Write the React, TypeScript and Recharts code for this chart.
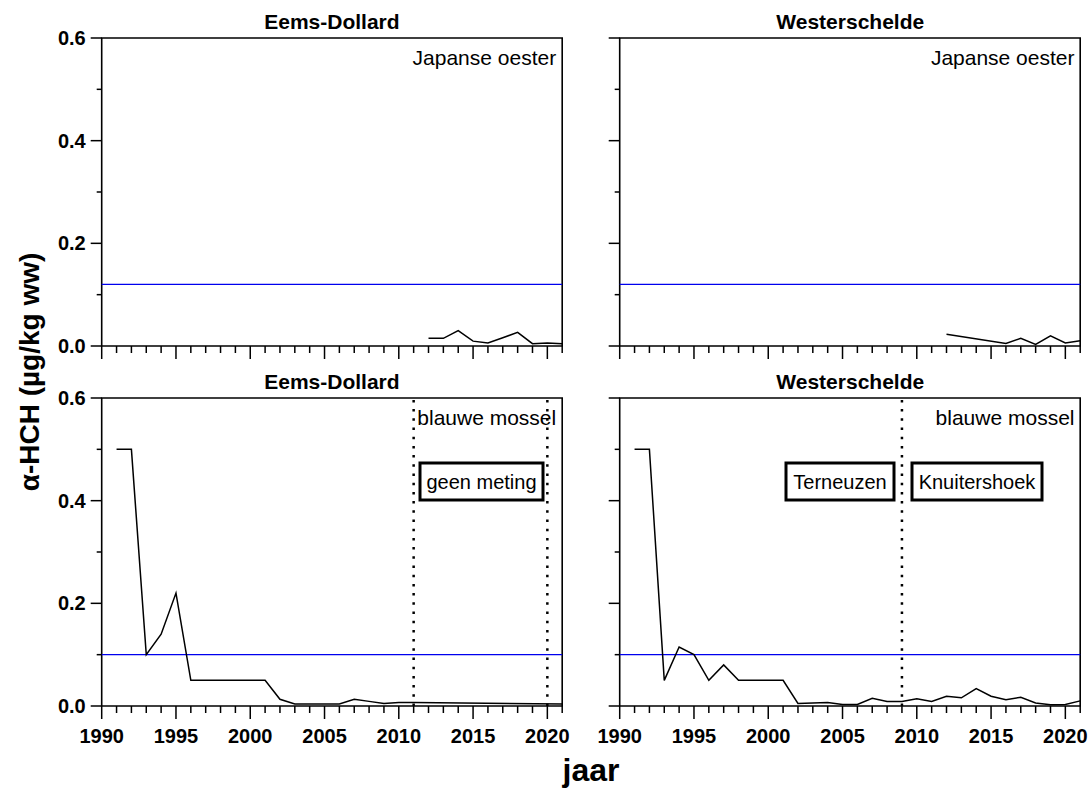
import React from 'react';
import { Line, LineChart, ReferenceArea, ReferenceLine, XAxis, YAxis } from 'recharts';

// α-HCH in μg/kg ww
const edOesterYears = [2012, 2013, 2014, 2015, 2016, 2017, 2018, 2019, 2020, 2021];
const edOesterValues = [0.015, 0.015, 0.03, 0.0095, 0.0057, 0.016, 0.0265, 0.0045, 0.006, 0.0045];

const wsOesterYears = [2012, 2016, 2017, 2018, 2019, 2020, 2021];
const wsOesterValues = [0.023, 0.005, 0.015, 0.003, 0.02, 0.006, 0.01];

const edMosselYears = [
  1991, 1992, 1993, 1994, 1995, 1996, 1997, 1998, 1999, 2000, 2001, 2002, 2003, 2004, 2005, 2006,
  2007, 2008, 2009, 2010, 2011, 2021,
];
const edMosselValues = [
  0.5, 0.5, 0.1, 0.14, 0.22, 0.05, 0.05, 0.05, 0.05, 0.05, 0.05, 0.013, 0.004, 0.004, 0.004, 0.004,
  0.013, 0.009, 0.005, 0.007, 0.007, 0.004,
];

const wsMosselYears = [
  1991, 1992, 1993, 1994, 1995, 1996, 1997, 1998, 1999, 2000, 2001, 2002, 2003, 2004, 2005, 2006,
  2007, 2008, 2009, 2010, 2011, 2012, 2013, 2014, 2015, 2016, 2017, 2018, 2019, 2020, 2021,
];
const wsMosselValues = [
  0.5, 0.5, 0.05, 0.115, 0.1, 0.05, 0.08, 0.05, 0.05, 0.05, 0.05, 0.005, 0.006, 0.007, 0.003, 0.003,
  0.015, 0.009, 0.009, 0.014, 0.009, 0.019, 0.016, 0.034, 0.019, 0.012, 0.017, 0.006, 0.0025, 0.003,
  0.01,
];

const yearTicks = Array.from({ length: 32 }, (_, i) => 1990 + i);
const valueTicks = [0, 0.1, 0.2, 0.3, 0.4, 0.5, 0.6];

const oesterNorm = 0.12;
const mosselNorm = 0.1;

const FONT = '"Liberation Sans", Arial, sans-serif';

const CHART_W = 570;
const CHART_H = 400;
const PLOT_LEFT = 101.7;
const PLOT_W = 460.5;
const PLOT_TOP = 38;
const PLOT_H = 308;

function toRows(years: number[], values: number[]) {
  return years.map((year, i) => ({ year, value: values[i] }));
}

function XTick(props: any) {
  const { x, y, payload, showLabel } = props;
  const major = payload.value % 5 === 0;
  return (
    <g>
      <line x1={x} x2={x} y1={y} y2={y + (major ? 13 : 7)} stroke="#000" strokeWidth={1.5} />
      {showLabel && major && (
        <text x={x} y={y + 37} textAnchor="middle" fontFamily={FONT} fontWeight="bold" fontSize={20} fill="#000">
          {payload.value}
        </text>
      )}
    </g>
  );
}

function YTick(props: any) {
  const { x, y, payload, showLabel } = props;
  const major = Math.round(payload.value * 10) % 2 === 0;
  return (
    <g>
      <line x1={x} x2={x - (major ? 11 : 5)} y1={y} y2={y} stroke="#000" strokeWidth={1.5} />
      {showLabel && major && (
        <text x={x - 16} y={y} dy="0.35em" textAnchor="end" fontFamily={FONT} fontWeight="bold" fontSize={20} fill="#000">
          {payload.value.toFixed(1)}
        </text>
      )}
    </g>
  );
}

interface PanelProps {
  left: number;
  top: number;
  rows: { year: number; value: number }[];
  norm: number;
  showXLabels: boolean;
  showYLabels: boolean;
  dotted?: number[];
}

function Panel({ left, top, rows, norm, showXLabels, showYLabels, dotted = [] }: PanelProps) {
  return (
    <div style={{ position: 'absolute', left, top, width: CHART_W, height: CHART_H }}>
      <LineChart
        width={CHART_W}
        height={CHART_H}
        data={rows}
        style={{ overflow: 'visible' }}
        margin={{
          top: PLOT_TOP,
          left: PLOT_LEFT - 60,
          right: CHART_W - PLOT_LEFT - PLOT_W,
          bottom: CHART_H - PLOT_TOP - PLOT_H - 40,
        }}
      >
        <XAxis
          dataKey="year"
          type="number"
          domain={[1990, 2021]}
          ticks={yearTicks}
          interval={0}
          height={40}
          axisLine={false}
          tickLine={false}
          tickSize={0}
          tickMargin={0}
          tick={<XTick showLabel={showXLabels} />}
        />
        <YAxis
          type="number"
          domain={[0, 0.6]}
          ticks={valueTicks}
          interval={0}
          width={60}
          axisLine={false}
          tickLine={false}
          tickSize={0}
          tickMargin={0}
          tick={<YTick showLabel={showYLabels} />}
        />
        <ReferenceLine y={norm} stroke="#0000ee" strokeWidth={1.4} />
        {dotted.map(year => (
          <ReferenceLine
            key={year}
            x={year}
            stroke="#000"
            strokeWidth={2.5}
            strokeDasharray="2.5 6.7"
          />
        ))}
        <Line
          dataKey="value"
          stroke="#000"
          strokeWidth={1.5}
          dot={false}
          isAnimationActive={false}
        />
        <ReferenceArea
          x1={1990}
          x2={2021}
          y1={0}
          y2={0.6}
          fill="none"
          stroke="#000"
          strokeWidth={1.6}
          ifOverflow="visible"
        />
      </LineChart>
    </div>
  );
}

function Box({ x, y, w, h, label }: { x: number; y: number; w: number; h: number; label: string }) {
  return (
    <g>
      <rect x={x} y={y} width={w} height={h} fill="#fff" stroke="#000" strokeWidth={3} />
      <text x={x + w / 2} y={y + h / 2} dy="0.35em" textAnchor="middle" fontFamily={FONT} fontSize={20}>
        {label}
      </text>
    </g>
  );
}

export default function App() {
  const rightShift = 518.3;
  const leftCenter = PLOT_LEFT + PLOT_W / 2;
  const rightCenter = leftCenter + rightShift;
  const leftEnd = PLOT_LEFT + PLOT_W - 6;
  const rightEnd = leftEnd + rightShift;

  return (
    <div style={{ position: 'absolute', left: 0, top: 0, width: 1092, height: 789, background: '#fff', fontFamily: FONT }}>
      <Panel left={0} top={0} rows={toRows(edOesterYears, edOesterValues)} norm={oesterNorm} showXLabels={false} showYLabels />
      <Panel left={rightShift} top={0} rows={toRows(wsOesterYears, wsOesterValues)} norm={oesterNorm} showXLabels={false} showYLabels={false} />
      <Panel left={0} top={360} rows={toRows(edMosselYears, edMosselValues)} norm={mosselNorm} showXLabels showYLabels dotted={[2011, 2020]} />
      <Panel left={rightShift} top={360} rows={toRows(wsMosselYears, wsMosselValues)} norm={mosselNorm} showXLabels showYLabels={false} dotted={[2009]} />
      <svg width={1092} height={789} style={{ position: 'absolute', left: 0, top: 0, pointerEvents: 'none' }}>
        <g fontFamily={FONT} fill="#000">
          <text x={leftCenter} y={29} textAnchor="middle" fontWeight="bold" fontSize={21}>Eems-Dollard</text>
          <text x={rightCenter} y={29} textAnchor="middle" fontWeight="bold" fontSize={21}>Westerschelde</text>
          <text x={leftCenter} y={389} textAnchor="middle" fontWeight="bold" fontSize={21}>Eems-Dollard</text>
          <text x={rightCenter} y={389} textAnchor="middle" fontWeight="bold" fontSize={21}>Westerschelde</text>
          <text x={leftEnd} y={65} textAnchor="end" fontSize={21}>Japanse oester</text>
          <text x={rightEnd} y={65} textAnchor="end" fontSize={21}>Japanse oester</text>
          <text x={leftEnd} y={425} textAnchor="end" fontSize={21}>blauwe mossel</text>
          <text x={rightEnd} y={425} textAnchor="end" fontSize={21}>blauwe mossel</text>
          <text
            transform="translate(29 372) rotate(-90)"
            textAnchor="middle"
            dy="0.35em"
            fontWeight="bold"
            fontSize={28}
          >
            α-HCH (µg/kg ww)
          </text>
          <text x={591} y={781} textAnchor="middle" fontWeight="bold" fontSize={32}>jaar</text>
        </g>
        <Box x={420} y={463} w={123} h={37} label="geen meting" />
        <Box x={786} y={463} w={108} h={37} label="Terneuzen" />
        <Box x={912} y={463} w={130} h={37} label="Knuitershoek" />
      </svg>
    </div>
  );
}
